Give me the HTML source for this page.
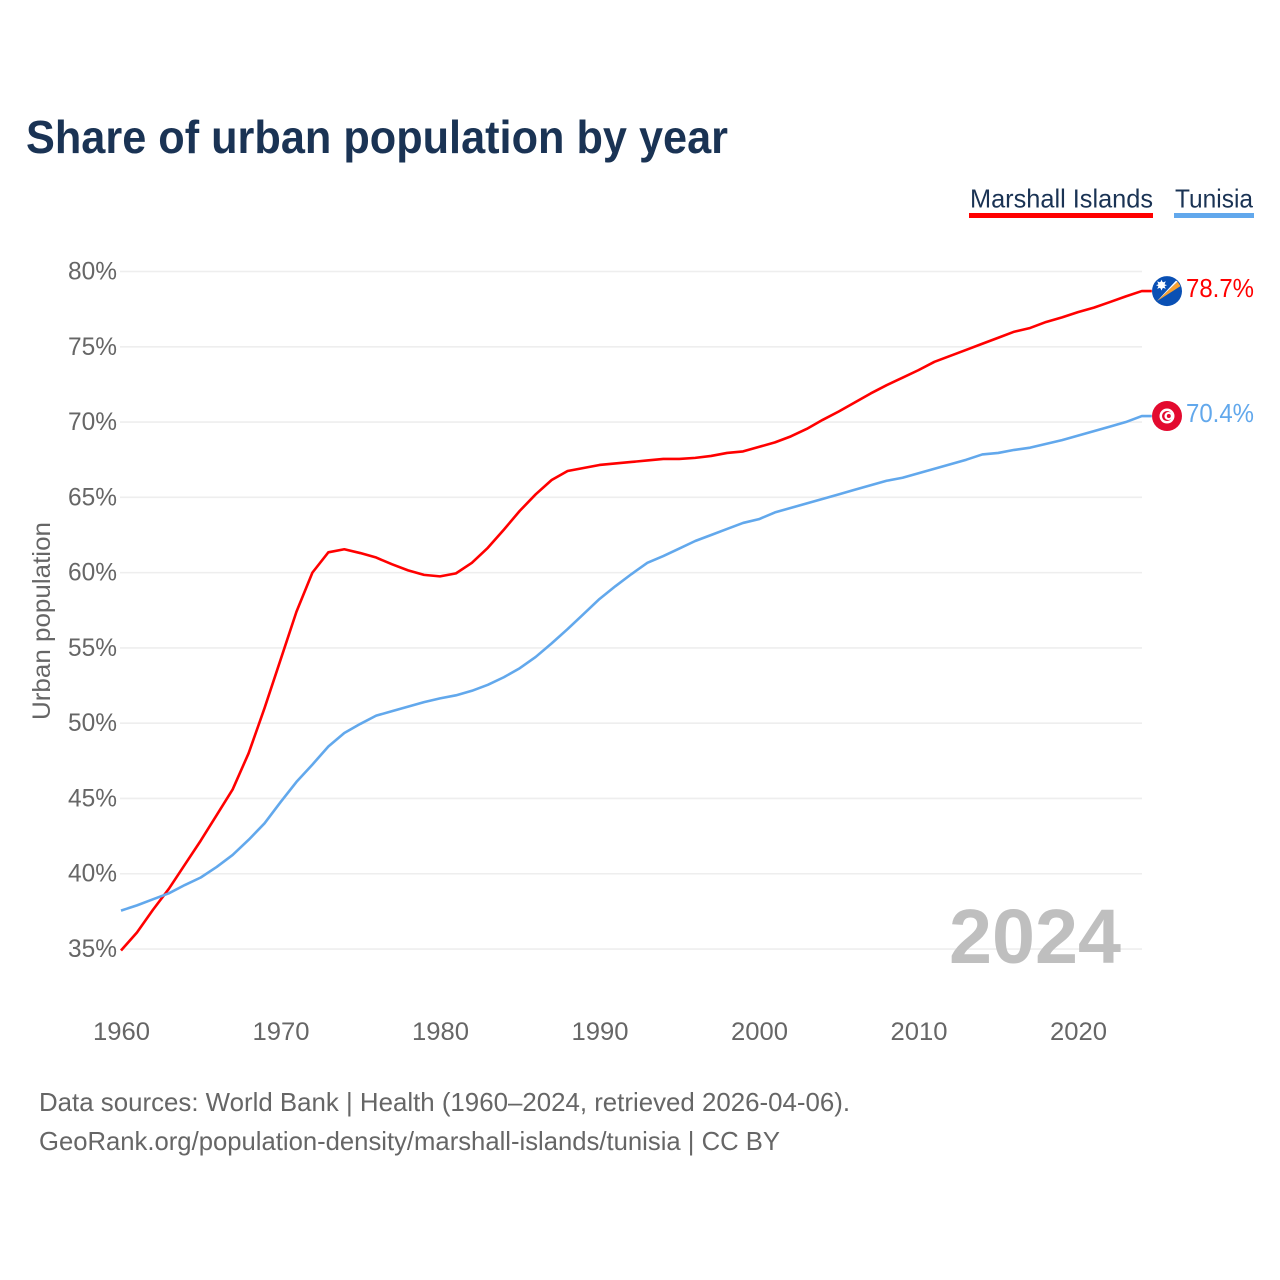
<!DOCTYPE html>
<html lang="en">
<head>
<meta charset="utf-8">
<title>Share of urban population by year</title>
<style>
  html, body { margin: 0; padding: 0; background: #fff; }
  svg { display: block; font-family: "Liberation Sans", sans-serif; }
</style>
</head>
<body>
<svg id="chart" width="1280" height="1280" viewBox="0 0 1280 1280" xmlns="http://www.w3.org/2000/svg">
  <rect width="1280" height="1280" fill="#ffffff"/>
  <text x="26" y="153" font-size="46" font-weight="700" fill="#1a3354" textLength="702" lengthAdjust="spacingAndGlyphs">Share of urban population by year</text>

  <g>
    <text x="970" y="207.5" font-size="26" fill="#1a3354" textLength="183" lengthAdjust="spacingAndGlyphs">Marshall Islands</text>
    <rect x="969" y="213" width="184" height="5" fill="#ff0000"/>
  </g>
  <g>
    <text x="1175" y="207.5" font-size="26" fill="#1a3354" textLength="78" lengthAdjust="spacingAndGlyphs">Tunisia</text>
    <rect x="1174" y="213" width="80" height="5" fill="#62a8ec"/>
  </g>

  <g id="grid"></g>
  <g id="y-ticks"></g>
  <g id="x-ticks"></g>

  <text transform="translate(50,720) rotate(-90)" font-size="25" fill="#666666" textLength="198" lengthAdjust="spacingAndGlyphs">Urban population</text>

  <text x="949" y="963" font-size="77" font-weight="700" fill="#bfbfbf" textLength="172" lengthAdjust="spacingAndGlyphs">2024</text>

  <g id="series"></g>
  <g id="end-markers"></g>

  <text x="39" y="1111" font-size="26" fill="#666666" textLength="811" lengthAdjust="spacingAndGlyphs">Data sources: World Bank | Health (1960–2024, retrieved 2026-04-06).</text>
  <text x="39" y="1150" font-size="26" fill="#666666" textLength="741" lengthAdjust="spacingAndGlyphs">GeoRank.org/population-density/marshall-islands/tunisia | CC BY</text>
</svg>

<script>
const startYear = 1960;
const yTickValues = [35, 40, 45, 50, 55, 60, 65, 70, 75, 80];
const xTickYears = [1960, 1970, 1980, 1990, 2000, 2010, 2020];
const marshallIslands = [
  34.9, 36.1, 37.6, 39.0, 40.6, 42.2, 43.9, 45.6, 48.0, 51.0,
  54.2, 57.4, 60.0, 61.35, 61.55, 61.3, 61.0, 60.55, 60.15, 59.85,
  59.75, 59.95, 60.65, 61.65, 62.85, 64.1, 65.2, 66.15, 66.75, 66.95,
  67.15, 67.25, 67.35, 67.45, 67.55, 67.55, 67.62, 67.75, 67.95, 68.05,
  68.35, 68.65, 69.05, 69.55, 70.15, 70.7, 71.3, 71.9, 72.45, 72.95,
  73.45, 74.0, 74.4, 74.8, 75.2, 75.6, 76.0, 76.25, 76.65, 76.95,
  77.3, 77.6, 77.97, 78.35, 78.7
];
const tunisia = [
  37.55, 37.9, 38.3, 38.7, 39.25, 39.75, 40.45, 41.25, 42.25, 43.35,
  44.75, 46.1, 47.25, 48.45, 49.35, 49.95, 50.5, 50.8, 51.1, 51.4,
  51.65, 51.85, 52.15, 52.55, 53.05, 53.65, 54.4, 55.3, 56.25, 57.25,
  58.25, 59.1, 59.9, 60.65, 61.1, 61.6, 62.1, 62.5, 62.9, 63.3,
  63.55, 64.0, 64.3, 64.6, 64.9, 65.2, 65.5, 65.8, 66.1, 66.3,
  66.6, 66.9, 67.2, 67.5, 67.85, 67.95, 68.15, 68.3, 68.55, 68.8,
  69.1, 69.4, 69.7, 70.0, 70.4
];

const NS = 'http://www.w3.org/2000/svg';
const xScale = function (year) { return 121 + (year - 1960) * 15.95; };
const yScale = function (v) { return 271.5 + (80 - v) * 15.056; };

function make(tag, attrs, parent) {
  const el = document.createElementNS(NS, tag);
  for (const k in attrs) el.setAttribute(k, attrs[k]);
  parent.appendChild(el);
  return el;
}

const gridG = document.getElementById('grid');
const yTickG = document.getElementById('y-ticks');
const xTickG = document.getElementById('x-ticks');
const seriesG = document.getElementById('series');
const markerG = document.getElementById('end-markers');

yTickValues.forEach(function (v) {
  const line = make('line', { x1: 120, x2: 1142, y1: yScale(v), y2: yScale(v), stroke: '#eeeeee', 'stroke-width': 1.6 }, gridG);
  
  
  const label = make('text', { x: 117, y: yScale(v) + 8, 'text-anchor': 'end', 'font-size': 25, fill: '#666666', textLength: 49, lengthAdjust: 'spacingAndGlyphs' }, yTickG);
  label.textContent = v + '%';
  
  
});

xTickYears.forEach(function (yr) {
  const label = make('text', { x: xScale(yr) + 0.5, y: 1040, 'text-anchor': 'middle', 'font-size': 25, fill: '#666666', textLength: 57, lengthAdjust: 'spacingAndGlyphs' }, xTickG);
  label.textContent = String(yr);
  
  
});

function drawSeries(values, color, slug) {
  const pts = values.map(function (v, i) {
    return xScale(startYear + i).toFixed(2) + ',' + yScale(v).toFixed(2);
  });
  const endY = yScale(values[values.length - 1]);
  const endX = xScale(startYear + values.length - 1);
  pts.push((endX + 10).toFixed(2) + ',' + endY.toFixed(2));
  const line = make('polyline', { points: pts.join(' '), fill: 'none', stroke: color, 'stroke-width': 2.6, 'stroke-linejoin': 'round' }, seriesG);
  
  

  const val = make('text', { x: 1186, y: endY + 6, 'font-size': 25.5, fill: color, textLength: 68, lengthAdjust: 'spacingAndGlyphs' }, markerG);
  val.textContent = values[values.length - 1].toFixed(1) + '%';
  
  
  return endY;
}

const miY = drawSeries(marshallIslands, '#ff0000', 'marshall-islands');
const tnY = drawSeries(tunisia, '#62a8ec', 'tunisia');

/* Marshall Islands flag */
const miFlag = make('g', { transform: 'translate(1167,' + miY + ')' }, markerG);


make('circle', { r: 15, fill: '#0a50b4' }, miFlag);
make('polygon', { points: '-10,10 10.5,-9.5 13.5,-5', fill: '#f7a030' }, miFlag);
make('polygon', { points: '-10,10 9,-10.5 10.5,-9.5', fill: '#ffffff' }, miFlag);
make('circle', { cx: -5.5, cy: -6, r: 3.4, fill: '#ffffff' }, miFlag);
make('polygon', { points: '-5.5,-11.5 -4.3,-8.5 -1.2,-9.8 -2.5,-6.7 0,-6 -2.5,-4.8 -1.2,-2.2 -4.2,-3.4 -5.5,-0.5 -6.8,-3.4 -9.8,-2.2 -8.5,-4.8 -11,-6 -8.5,-6.7 -9.8,-9.8 -6.7,-8.5', fill: '#ffffff' }, miFlag);

/* Tunisia flag */
const tnFlag = make('g', { transform: 'translate(1167,' + tnY + ')' }, markerG);


make('circle', { r: 15, fill: '#e30a2f' }, tnFlag);
make('circle', { r: 7.5, fill: '#ffffff' }, tnFlag);
make('circle', { r: 5, fill: '#e30a2f' }, tnFlag);
make('circle', { cx: 1.4, r: 4, fill: '#ffffff' }, tnFlag);
make('circle', { cx: 1.8, r: 2, fill: '#e30a2f' }, tnFlag);
</script>
</body>
</html>
